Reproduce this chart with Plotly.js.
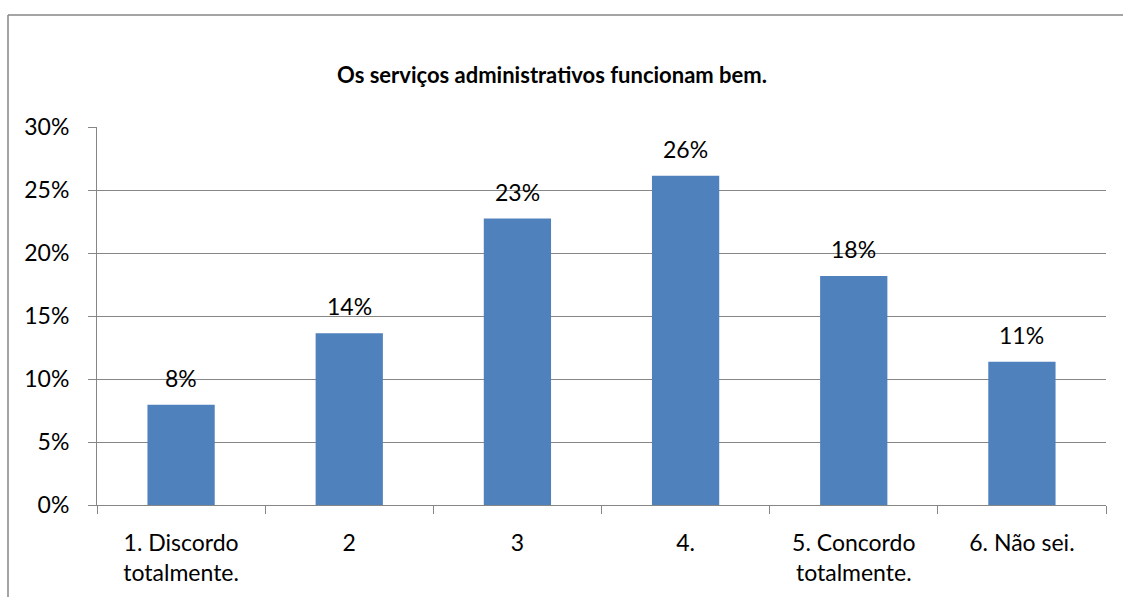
<!DOCTYPE html>
<html>
<head>
<meta charset="utf-8">
<script src="https://cdn.plot.ly/plotly-3.0.1.min.js"></script>
<style>
  html, body { margin: 0; padding: 0; background: #fff; }
  #plot { width: 1123px; height: 597px; }
</style>
</head>
<body>
<div id="plot"></div>
<script>
const categories = ["1. Discordo<br>totalmente.", "2", "3", "4.", "5. Concordo<br>totalmente.", "6. Não sei."];
const shares = [0.0795, 0.1364, 0.2273, 0.2614, 0.1818, 0.1136];
const labels = ["8%", "14%", "23%", "26%", "18%", "11%"];
const yTicks = [0, 0.05, 0.10, 0.15, 0.20, 0.25, 0.30];
const yTickText = ["0%", "5%", "10%", "15%", "20%", "25%", "30%"];

const W = 1123, H = 597;
const margin = { l: 97, r: 17, t: 127, b: 92 };
const plotW = W - margin.l - margin.r;
const plotH = H - margin.t - margin.b;
const px = x => (x - margin.l) / plotW;
const py = y => (H - margin.b - y) / plotH;

const font = "Lato, 'Open Sans', sans-serif";
const grid = "#868686";

const trace = {
  type: "bar",
  x: categories,
  y: shares,
  width: 0.4,
  marker: { color: "#4F81BD" },
  hoverinfo: "skip"
};

// value labels above the bars (x given as category index)
const notes = shares.map((v, i) => ({
  x: i, y: v, xref: "x", yref: "y",
  text: labels[i], showarrow: false,
  yanchor: "bottom", yshift: 11,
  font: { family: font, size: 23, color: "#000" }
}));

Plotly.newPlot("plot", [trace], {
  width: W, height: H,
  margin: margin,
  paper_bgcolor: "#fff",
  plot_bgcolor: "#fff",
  showlegend: false,
  title: {
    text: "<b>Os serviços administrativos funcionam bem.</b>",
    font: { family: font, size: 22, color: "#000" },
    x: 552 / W, xref: "container", xanchor: "center",
    y: 1 - 75 / H, yref: "container", yanchor: "middle"
  },
  xaxis: {
    type: "category",
    showline: true, linecolor: grid, linewidth: 1,
    ticks: "outside", tickson: "boundaries", ticklen: 8, tickcolor: grid,
    showgrid: false, zeroline: false,
    ticklabelstandoff: 17,
    tickfont: { family: font, size: 23, color: "#000" },
    fixedrange: true
  },
  yaxis: {
    range: [0, 0.30],
    tickvals: yTicks, ticktext: yTickText,
    showline: true, linecolor: grid, linewidth: 1,
    ticks: "outside", ticklen: 8, tickcolor: grid,
    ticklabelstandoff: 14,
    showgrid: true, gridcolor: grid, gridwidth: 1,
    zeroline: false,
    tickfont: { family: font, size: 23, color: "#000" },
    fixedrange: true
  },
  annotations: notes,
  shapes: [
    { type: "line", xref: "paper", yref: "paper", x0: px(8), x1: px(8), y0: py(15), y1: py(H), line: { color: grid, width: 1.5 } },
    { type: "line", xref: "paper", yref: "paper", x0: px(8), x1: px(W), y0: py(15), y1: py(15), line: { color: grid, width: 1.5 } }
  ]
}, { displayModeBar: false, staticPlot: true });
</script>
</body>
</html>
